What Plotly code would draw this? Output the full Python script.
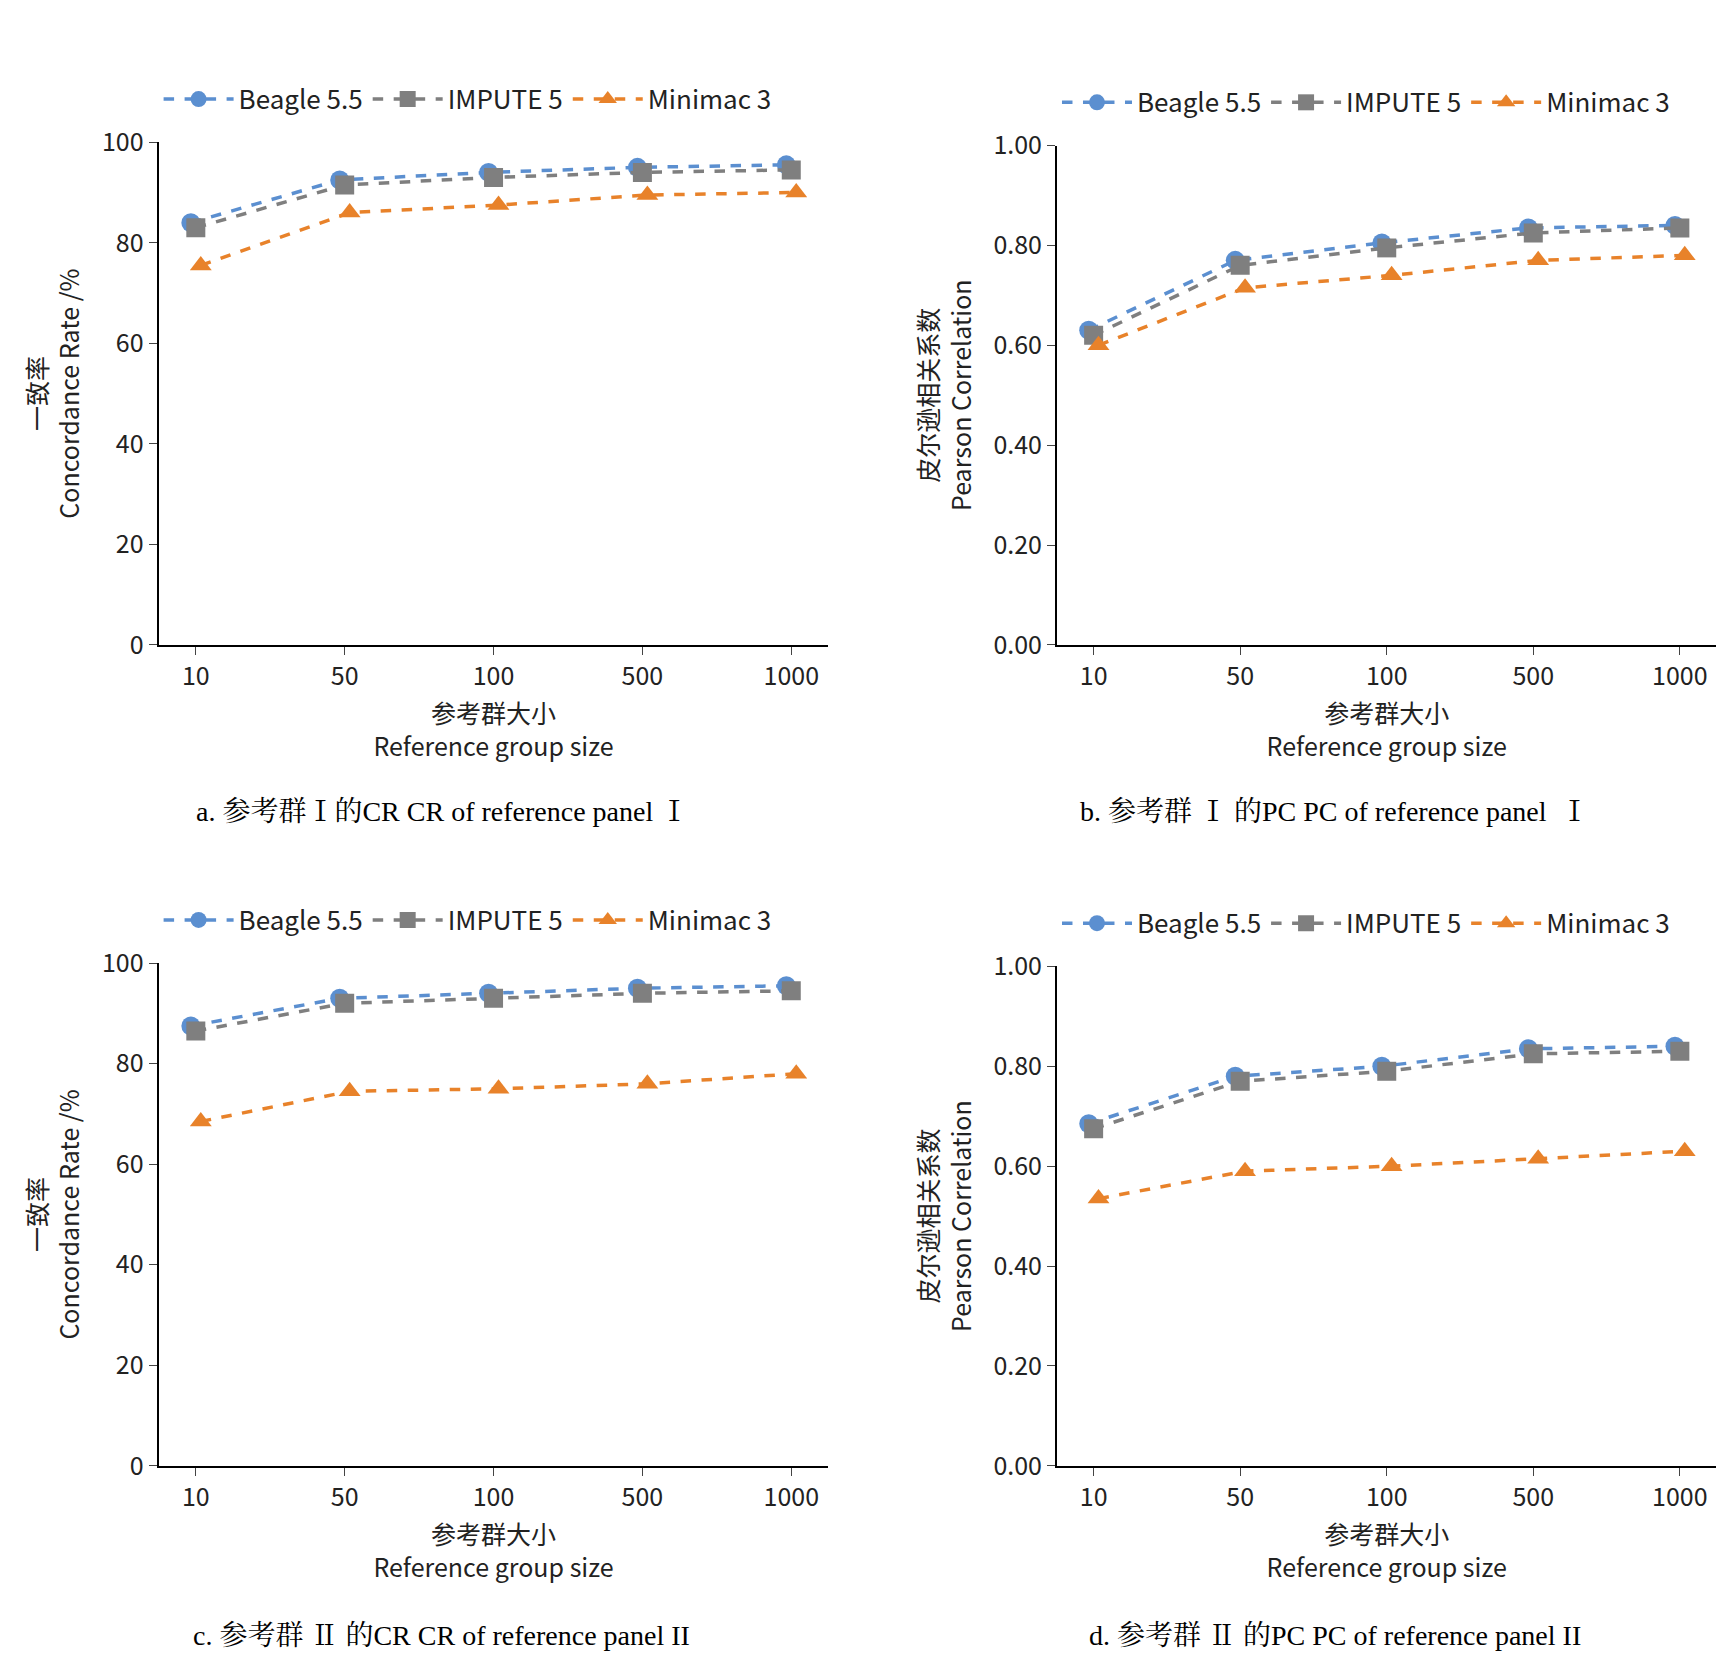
import plotly.graph_objects as go

sizes = ["10", "50", "100", "500", "1000"]
methods = ["Beagle 5.5", "IMPUTE 5", "Minimac 3"]
a_vals = [[84, 92.5, 94, 95, 95.5], [83, 91.5, 93, 94, 94.5], [75.5, 86, 87.5, 89.5, 90]]
b_vals = [[0.63, 0.77, 0.805, 0.835, 0.84], [0.62, 0.76, 0.795, 0.825, 0.835], [0.60, 0.715, 0.74, 0.77, 0.78]]
c_vals = [[87.5, 93, 94, 95, 95.5], [86.5, 92, 93, 94, 94.5], [68.5, 74.5, 75, 76, 78]]
d_vals = [[0.685, 0.78, 0.80, 0.835, 0.84], [0.675, 0.77, 0.79, 0.825, 0.83], [0.535, 0.59, 0.60, 0.615, 0.63]]
captions = ["a. 参考群Ⅰ的CR CR of reference panel Ⅰ", "b. 参考群 Ⅰ 的PC PC of reference panel  Ⅰ",
            "c. 参考群 Ⅱ 的CR CR of reference panel II", "d. 参考群 Ⅱ 的PC PC of reference panel II"]

colors = ["#5B8FD0", "#7F7F7F", "#E8822A"]
symbols = ["circle", "square", "triangle-up"]
font = "Noto Sans CJK SC, Noto Sans, sans-serif"

panels = [
    (a_vals, [0.087, 0.474], [0.622, 0.93], "cr"),
    (b_vals, [0.606, 0.987], [0.622, 0.928], "pc"),
    (c_vals, [0.087, 0.474], [0.119, 0.427], "cr"),
    (d_vals, [0.606, 0.987], [0.119, 0.425], "pc"),
]

fig = go.Figure()
for i, (vals, xd, yd, kind) in enumerate(panels):
    n = "" if i == 0 else str(i + 1)
    lg = "legend" + n
    for j, m in enumerate(methods):
        fig.add_trace(go.Scatter(
            x=sizes, y=vals[j], name=m, mode="lines+markers",
            line=dict(color=colors[j], width=3.5, dash="dash"),
            marker=dict(color=colors[j], symbol=symbols[j], size=19),
            xaxis="x" + n, yaxis="y" + n, legend=lg, offsetgroup=m))
    fig.layout["xaxis" + n] = dict(
        domain=xd, anchor="y" + n, type="category", range=[-0.25, 4.25],
        showline=True, linecolor="black", linewidth=2, ticks="outside", ticklen=8,
        tickfont=dict(size=25, family=font), showgrid=False,
        title=dict(text="参考群大小<br>Reference group size", font=dict(size=25, family=font)))
    if kind == "cr":
        yax = dict(range=[0, 100], dtick=20, tickformat="d",
                   title=dict(text="一致率<br>Concordance Rate /%", font=dict(size=25, family=font)))
    else:
        yax = dict(range=[0, 1], dtick=0.2, tickformat=".2f",
                   title=dict(text="皮尔逊相关系数<br>Pearson Correlation", font=dict(size=25, family=font)))
    yax.update(domain=yd, anchor="x" + n, showline=True, linecolor="black", linewidth=2,
               ticks="outside", ticklen=8, tickfont=dict(size=25, family=font), showgrid=False,
               zeroline=False)
    fig.layout["yaxis" + n] = yax
    fig.layout[lg] = dict(orientation="h", x=xd[0] + 0.0, xanchor="left",
                          y=yd[1] + 0.012, yanchor="bottom",
                          font=dict(size=26, family=font), itemwidth=70, bgcolor="rgba(0,0,0,0)")
    cy = 0.52 if i < 2 else 0.015
    fig.add_annotation(text=captions[i], x=(xd[0] + xd[1]) / 2 - 0.03, y=cy, xref="paper", yref="paper",
                       xanchor="center", yanchor="middle", showarrow=False,
                       font=dict(size=28, family="Liberation Serif, Noto Serif CJK SC, Noto Sans CJK SC", color="black"))

fig.update_layout(width=1731, height=1668, plot_bgcolor="white", paper_bgcolor="white",
                  margin=dict(l=0, r=0, t=0, b=0), scattermode="group", scattergap=0.9,
                  font=dict(family=font, color="#222"))
fig.write_html("out.html")
